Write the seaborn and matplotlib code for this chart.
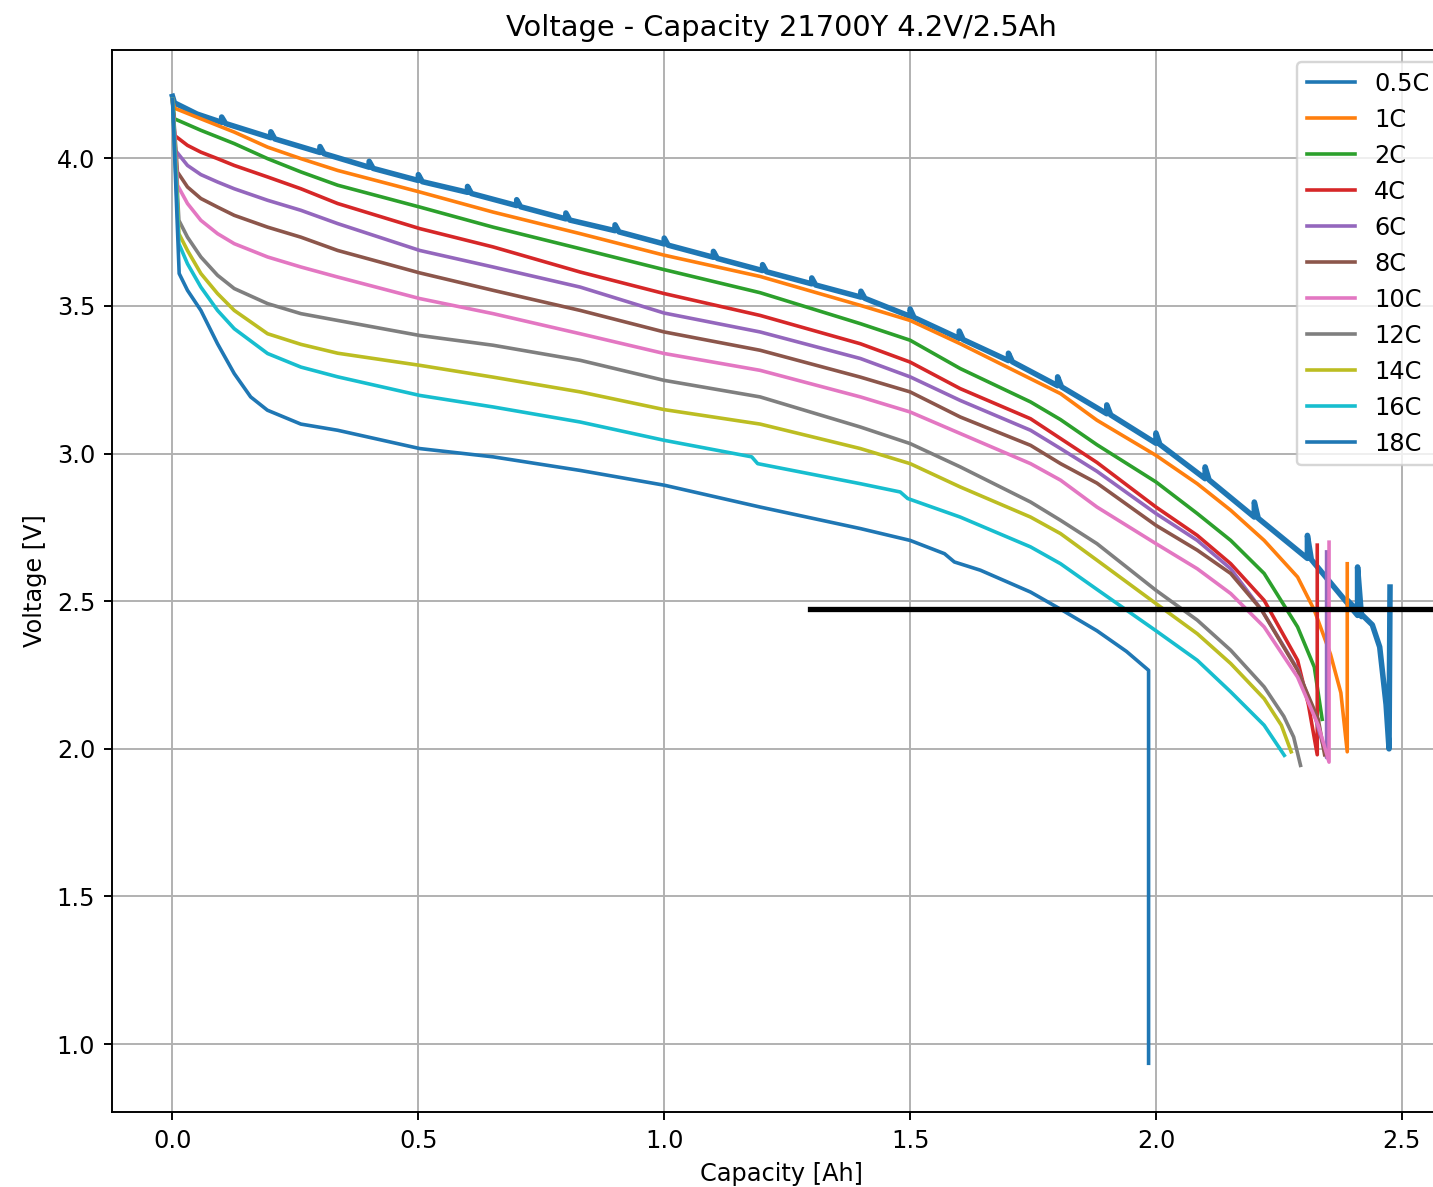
import numpy as np
import pandas as pd
import seaborn as sns
import matplotlib.pyplot as plt

# values (Capacity [Ah], Voltage [V])
rates = ["0.5C", "1C", "2C", "4C", "6C", "8C", "10C", "12C", "14C", "16C", "18C"]
colors = ["tab:blue", "tab:orange", "tab:green", "tab:red", "tab:purple", "tab:brown",
          "tab:pink", "tab:gray", "tab:olive", "tab:cyan", "tab:blue"]

# 0.5C: slow discharge with a short rest pulse every 0.1 Ah
c05_head_x = [0.0, 0.004, 0.05]
c05_head_v = [4.21, 4.188, 4.15]
c05_pulse_x = [0.1, 0.2, 0.3, 0.4, 0.5, 0.6, 0.7, 0.8, 0.9, 1.0, 1.1, 1.2, 1.3, 1.4,
               1.5, 1.6, 1.7, 1.8, 1.9, 2.0, 2.1, 2.2, 2.308, 2.41]
c05_pulse_base = [4.122, 4.07, 4.02, 3.97, 3.925, 3.885, 3.84, 3.795, 3.755, 3.71, 3.665,
                  3.62, 3.575, 3.53, 3.465, 3.39, 3.315, 3.23, 3.135, 3.035, 2.915, 2.785,
                  2.645, 2.452]
c05_pulse_peak = [4.14, 4.09, 4.04, 3.99, 3.945, 3.905, 3.86, 3.815, 3.775, 3.73, 3.685,
                  3.64, 3.595, 3.55, 3.49, 3.415, 3.34, 3.26, 3.165, 3.07, 2.955, 2.836,
                  2.723, 2.616]
c05_tail_x = [2.389, 2.44, 2.455, 2.468, 2.474, 2.476]
c05_tail_v = [2.503, 2.42, 2.345, 2.15, 2.0, 2.548]

cap_1c = [0, 0.004, 0.0577, 0.1256, 0.1934, 0.2612, 0.336, 0.503, 0.652, 0.829, 1.0, 1.195,
          1.399, 1.5, 1.602, 1.806, 1.88, 2.0, 2.084, 2.152, 2.22, 2.288, 2.322, 2.355,
          2.376, 2.389, 2.389]
v_1c = [4.20, 4.17, 4.134, 4.089, 4.038, 3.999, 3.959, 3.886, 3.818, 3.745, 3.672, 3.60,
        3.502, 3.451, 3.372, 3.203, 3.113, 2.994, 2.898, 2.808, 2.706, 2.582, 2.47, 2.32,
        2.19, 1.99, 2.627]

cap_2c = [0, 0.004, 0.0577, 0.1256, 0.1934, 0.2612, 0.336, 0.503, 0.652, 0.829, 1.0, 1.195,
          1.399, 1.5, 1.602, 1.745, 1.806, 1.88, 2.0, 2.084, 2.152, 2.22, 2.288, 2.322, 2.338]
v_2c = [4.20, 4.134, 4.095, 4.05, 3.999, 3.954, 3.909, 3.835, 3.767, 3.694, 3.623, 3.545,
        3.44, 3.384, 3.288, 3.175, 3.115, 3.03, 2.904, 2.797, 2.706, 2.594, 2.413, 2.277,
        2.10]

cap_4c = [0, 0.004, 0.0305, 0.0577, 0.0916, 0.1256, 0.1934, 0.2612, 0.336, 0.503, 0.652,
          0.829, 1.0, 1.195, 1.399, 1.5, 1.602, 1.745, 1.806, 1.88, 2.0, 2.084, 2.152, 2.22,
          2.288, 2.31, 2.328, 2.328]
v_4c = [4.20, 4.078, 4.044, 4.021, 3.999, 3.976, 3.937, 3.897, 3.847, 3.762, 3.70, 3.615,
        3.542, 3.468, 3.372, 3.31, 3.22, 3.118, 3.051, 2.97, 2.819, 2.723, 2.627, 2.503,
        2.30, 2.15, 1.98, 2.69]

cap_6c = [0, 0.006, 0.0305, 0.0577, 0.0916, 0.1256, 0.1934, 0.2612, 0.336, 0.503, 0.652,
          0.829, 1.0, 1.195, 1.399, 1.5, 1.602, 1.745, 1.806, 1.88, 2.0, 2.084, 2.152, 2.215,
          2.288, 2.32, 2.347, 2.347]
v_6c = [4.20, 4.027, 3.976, 3.945, 3.92, 3.897, 3.858, 3.824, 3.779, 3.688, 3.632, 3.564,
        3.476, 3.412, 3.322, 3.26, 3.18, 3.079, 3.017, 2.94, 2.797, 2.706, 2.61, 2.47,
        2.27, 2.13, 1.97, 2.667]

cap_8c = [0, 0.01, 0.0305, 0.0577, 0.0916, 0.1256, 0.1934, 0.2612, 0.336, 0.503, 0.652,
          0.829, 1.0, 1.195, 1.399, 1.5, 1.602, 1.745, 1.806, 1.88, 2.0, 2.084, 2.152, 2.215,
          2.288, 2.33, 2.343]
v_8c = [4.20, 3.954, 3.903, 3.864, 3.835, 3.807, 3.767, 3.733, 3.688, 3.612, 3.553, 3.485,
        3.412, 3.35, 3.259, 3.209, 3.124, 3.028, 2.966, 2.90, 2.757, 2.673, 2.594, 2.47,
        2.266, 2.10, 1.98]

cap_10c = [0, 0.0102, 0.0305, 0.0577, 0.0916, 0.1256, 0.1934, 0.2612, 0.336, 0.503, 0.652,
           0.829, 1.0, 1.195, 1.399, 1.5, 1.602, 1.745, 1.806, 1.88, 2.0, 2.084, 2.152, 2.22,
           2.288, 2.33, 2.352, 2.352]
v_10c = [4.20, 3.909, 3.847, 3.79, 3.745, 3.711, 3.666, 3.632, 3.598, 3.525, 3.474, 3.406,
         3.339, 3.282, 3.192, 3.141, 3.068, 2.966, 2.91, 2.819, 2.695, 2.61, 2.526, 2.413,
         2.243, 2.08, 1.955, 2.70]

cap_12c = [0, 0.013, 0.0305, 0.0577, 0.0916, 0.1256, 0.1934, 0.2612, 0.336, 0.503, 0.652,
           0.829, 1.0, 1.195, 1.399, 1.5, 1.602, 1.745, 1.806, 1.88, 2.0, 2.084, 2.152, 2.22,
           2.26, 2.28, 2.294]
v_12c = [4.20, 3.79, 3.733, 3.666, 3.604, 3.559, 3.508, 3.474, 3.451, 3.40, 3.367, 3.316,
         3.248, 3.192, 3.09, 3.034, 2.955, 2.836, 2.774, 2.695, 2.537, 2.436, 2.334, 2.21,
         2.11, 2.04, 1.944]

cap_14c = [0, 0.013, 0.0305, 0.0577, 0.0916, 0.1256, 0.1934, 0.2612, 0.336, 0.503, 0.652,
           0.829, 1.0, 1.195, 1.399, 1.5, 1.602, 1.745, 1.806, 1.88, 2.0, 2.084, 2.152, 2.22,
           2.255, 2.275]
v_14c = [4.20, 3.745, 3.688, 3.61, 3.542, 3.485, 3.406, 3.37, 3.34, 3.299, 3.259, 3.209,
         3.149, 3.10, 3.017, 2.966, 2.887, 2.785, 2.729, 2.639, 2.492, 2.39, 2.289, 2.17,
         2.08, 1.99]

cap_16c = [0, 0.013, 0.0305, 0.0577, 0.0916, 0.1256, 0.1934, 0.2612, 0.336, 0.503, 0.652,
           0.829, 1.0, 1.178, 1.19, 1.399, 1.48, 1.495, 1.602, 1.745, 1.806, 1.88, 2.0, 2.084,
           2.152, 2.22, 2.261]
v_16c = [4.20, 3.711, 3.643, 3.564, 3.485, 3.423, 3.339, 3.293, 3.26, 3.197, 3.158, 3.107,
         3.045, 2.989, 2.966, 2.898, 2.87, 2.848, 2.785, 2.684, 2.627, 2.54, 2.40, 2.30,
         2.193, 2.08, 1.978]

cap_18c = [0, 0.0136, 0.0305, 0.0577, 0.0916, 0.1256, 0.159, 0.193, 0.261, 0.336, 0.503,
           0.652, 0.829, 1.0, 1.195, 1.399, 1.5, 1.57, 1.59, 1.643, 1.745, 1.806, 1.88, 1.94,
           1.985, 1.985]
v_18c = [4.20, 3.61, 3.553, 3.485, 3.372, 3.271, 3.192, 3.147, 3.10, 3.079, 3.017, 2.989,
         2.943, 2.893, 2.819, 2.746, 2.706, 2.661, 2.633, 2.605, 2.531, 2.473, 2.40, 2.33,
         2.266, 0.935]

# thick black marker line
marker_x = [1.297, 2.7]
marker_v = [2.473, 2.473]

# build the 0.5C polyline from the pulse readings
cap_05c = list(c05_head_x)
v_05c = list(c05_head_v)
for px, base, peak in zip(c05_pulse_x, c05_pulse_base, c05_pulse_peak):
    cap_05c += [px, px, px + 0.008]
    v_05c += [base, peak, base - 0.004]
cap_05c += c05_tail_x
v_05c += c05_tail_v

series = [(cap_05c, v_05c), (cap_1c, v_1c), (cap_2c, v_2c), (cap_4c, v_4c), (cap_6c, v_6c),
          (cap_8c, v_8c), (cap_10c, v_10c), (cap_12c, v_12c), (cap_14c, v_14c),
          (cap_16c, v_16c), (cap_18c, v_18c)]

dpi = 173
fig = plt.figure(figsize=(1433 / dpi, 1187 / dpi), dpi=dpi)
ax = fig.add_axes([112 / 1433, 75 / 1187, 1339 / 1433, 1062 / 1187])

for (cap, volt), rate, col in zip(series, rates, colors):
    df = pd.DataFrame({"Capacity": cap, "Voltage": volt})
    lw = 2.3 if rate == "0.5C" else 1.5
    sns.lineplot(data=df, x="Capacity", y="Voltage", sort=False, estimator=None,
                 color=col, linewidth=lw, label=rate, ax=ax)

ax.plot(marker_x, marker_v, color="black", linewidth=2.2, zorder=10)

ax.set_xlim(-0.123, 2.6)
ax.set_ylim(0.77, 4.367)
ax.grid(True)
ax.set_title("Voltage - Capacity 21700Y 4.2V/2.5Ah")
ax.set_xlabel("Capacity [Ah]")
ax.set_ylabel("Voltage [V]")
leg = ax.legend(loc="upper right")
for h in leg.get_lines():
    h.set_linewidth(1.5)

fig.savefig("out.png", dpi=dpi)
